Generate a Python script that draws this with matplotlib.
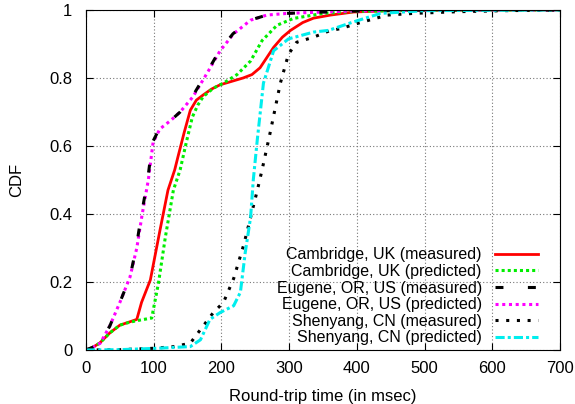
import numpy as np
import matplotlib
matplotlib.use('Agg')
import matplotlib.pyplot as plt

plt.rcParams['font.family'] = ['Liberation Sans', 'DejaVu Sans']

# Cambridge, UK
cam_meas_x = [0, 10, 20, 35, 50, 65, 75, 82, 95, 109, 121, 131, 136, 145, 154, 163, 173, 185, 198, 215, 232, 245, 257, 267, 277, 290, 302, 320, 336, 361, 395, 450, 550, 700]
cam_meas_y = [0, 0.008, 0.02, 0.05, 0.073, 0.083, 0.09, 0.14, 0.206, 0.35, 0.47, 0.53, 0.57, 0.64, 0.705, 0.735, 0.75, 0.767, 0.78, 0.79, 0.80, 0.81, 0.83, 0.86, 0.89, 0.92, 0.94, 0.963, 0.976, 0.985, 0.994, 0.998, 1.0, 1.0]
cam_pred_x = [0, 10, 20, 35, 50, 65, 80, 97, 107, 117, 129, 139, 148, 157, 165, 173, 188, 203, 223, 243, 260, 282, 306, 350, 400, 500, 700]
cam_pred_y = [0, 0.008, 0.02, 0.05, 0.073, 0.082, 0.088, 0.094, 0.197, 0.33, 0.47, 0.53, 0.61, 0.685, 0.72, 0.745, 0.77, 0.785, 0.81, 0.85, 0.91, 0.955, 0.975, 0.99, 0.996, 1.0, 1.0]

# Eugene, OR, US
eug_meas_x = [0, 10, 20, 35, 50, 65, 74, 82, 91, 98, 108, 125, 139, 157, 178, 197, 217, 242, 267, 297, 336, 400, 500, 700]
eug_meas_y = [0, 0.008, 0.02, 0.07, 0.14, 0.215, 0.30, 0.40, 0.50, 0.61, 0.65, 0.675, 0.70, 0.745, 0.815, 0.88, 0.93, 0.97, 0.985, 0.99, 0.993, 0.997, 1.0, 1.0]
eug_pred_x = [0, 10, 21, 35, 50, 65, 75, 83, 92, 99, 109, 125, 139, 158, 179, 198, 218, 243, 267, 297, 336, 400, 500, 700]
eug_pred_y = [0, 0.008, 0.02, 0.07, 0.14, 0.215, 0.30, 0.40, 0.50, 0.61, 0.65, 0.675, 0.70, 0.745, 0.815, 0.88, 0.93, 0.97, 0.985, 0.99, 0.993, 0.997, 1.0, 1.0]

# Shenyang, CN
she_meas_x = [0, 50, 100, 130, 154, 169, 188, 203, 218, 233, 243, 253, 260, 272, 287, 299, 311, 336, 361, 376, 400, 445, 484, 550, 620, 700]
she_meas_y = [0, 0.001, 0.005, 0.01, 0.02, 0.06, 0.11, 0.14, 0.21, 0.31, 0.39, 0.47, 0.53, 0.64, 0.785, 0.87, 0.905, 0.92, 0.94, 0.945, 0.96, 0.985, 0.99, 0.995, 0.998, 1.0]
she_pred_x = [0, 50, 105, 154, 169, 183, 198, 218, 228, 235, 243, 247, 253, 262, 277, 299, 336, 358, 395, 435, 500, 700]
she_pred_y = [0, 0.001, 0.005, 0.01, 0.03, 0.09, 0.11, 0.13, 0.17, 0.285, 0.39, 0.5, 0.62, 0.785, 0.88, 0.915, 0.935, 0.94, 0.965, 0.99, 0.998, 1.0]

labels = ['Cambridge, UK (measured)', 'Cambridge, UK (predicted)',
          'Eugene, OR, US (measured)', 'Eugene, OR, US (predicted)',
          'Shenyang, CN (measured)', 'Shenyang, CN (predicted)']

fig = plt.figure(figsize=(5.75, 4.04), dpi=100)
ax = fig.add_axes([0.1496, 0.1337, 0.8244, 0.8416])

h1, = ax.plot(cam_meas_x, cam_meas_y, color='#ff0000', lw=2.0, ls='-', label=labels[0])
h2, = ax.plot(cam_pred_x, cam_pred_y, color='#00ee00', lw=2.2, ls=(0, (1, 1)), label=labels[1])
h4, = ax.plot(eug_pred_x, eug_pred_y, color='#ff00ff', lw=2.2, ls=(0, (1, 1.2)), label=labels[3])
h3, = ax.plot(eug_meas_x, eug_meas_y, color='black', lw=2.2, ls=(0, (2.6, 8)), label=labels[2])
h5, = ax.plot(she_meas_x, she_meas_y, color='black', lw=2.2, ls=(0, (1, 2.5)), label=labels[4])
h6, = ax.plot(she_pred_x, she_pred_y, color='#00eeee', lw=2.2, ls=(0, (3, 1, 1, 1)), label=labels[5])

ax.set_xlim(0, 700)
ax.set_ylim(0, 1)
ax.set_xticks(np.arange(0, 701, 100))
ax.set_yticks([0, 0.2, 0.4, 0.6, 0.8, 1])
ax.set_yticklabels(['0', '0.2', '0.4', '0.6', '0.8', '1'])
ax.tick_params(direction='in', top=True, right=True, length=5, labelsize=12)
ax.tick_params(axis='x', pad=8)
ax.tick_params(axis='y', pad=10)
ax.grid(True, color='#777777', ls=(0, (1, 2)), lw=0.8)
ax.set_xlabel('Round-trip time (in msec)', fontsize=12, labelpad=9)
ax.set_ylabel('CDF', fontsize=12, labelpad=18)

leg = ax.legend(handles=[h1, h2, h3, h4, h5, h6], loc='lower right', frameon=False,
                markerfirst=False, fontsize=11.5, handlelength=2.75, labelspacing=0.1,
                borderaxespad=0, handletextpad=0.8, bbox_to_anchor=(0.968, -0.005))

fig.savefig('out.png', dpi=100)
